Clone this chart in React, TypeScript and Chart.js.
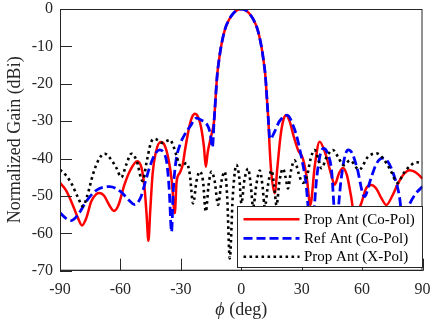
import React, { useEffect, useRef } from 'react';
import { Chart, registerables } from 'chart.js';

Chart.register(...registerables);

const FONT = '"Liberation Serif", "Times New Roman", Times, serif';
const INK = '#262626';

const xTickValues = [-90, -60, -30, 0, 30, 60, 90];
const yTickValues = [0, -10, -20, -30, -40, -50, -60, -70];

const seriesLabels = ['Prop Ant (Co-Pol)', 'Ref Ant (Co-Pol)', 'Prop Ant (X-Pol)'];

// [angle (deg), normalized gain (dBi)]
const propCoPol: [number, number][] = [
  [-90, -46.5], [-87, -48.5], [-84, -52], [-81, -56], [-79.1, -57.9], [-77, -56], [-74.5, -51.5],
  [-72, -49.5], [-70.3, -49.2], [-68, -50], [-65.5, -52.5], [-63.2, -54], [-61, -52.5], [-58, -47],
  [-55, -43], [-51.7, -40.7], [-49.5, -42.5], [-48, -48], [-47, -55], [-46.1, -62], [-45.2, -54],
  [-44, -44], [-42.5, -38.5], [-40, -35.6], [-38, -36.5], [-36, -40.5], [-34.5, -46], [-33, -54.6],
  [-32.1, -46.2], [-30.5, -43.8], [-29, -41.5], [-28, -38], [-26, -32], [-24.5, -29], [-23, -28],
  [-21.5, -28.8], [-20, -31.5], [-18.5, -37], [-17.6, -42.2], [-16.7, -38.5], [-15.6, -35.5],
  [-14.5, -33], [-13.5, -30], [-13, -26], [-12, -18], [-11, -13.5], [-10, -10], [-8, -5.3],
  [-6, -2.8], [-4, -1.2], [-2, -0.3], [0, 0], [2, -0.3], [4, -1.2], [6, -2.8], [8, -5.3], [10, -10],
  [11, -13.5], [12, -18], [13, -26], [13.5, -30], [14, -36], [14.8, -43], [16.6, -49.3], [18, -42],
  [19.5, -34], [21, -29.5], [22.4, -28.4], [24, -30], [26, -34], [28.2, -37.7], [30.6, -40],
  [32.5, -45], [34.3, -52.4], [36.5, -42], [38.9, -35.5], [42, -39], [44.5, -44], [46.4, -47],
  [48.5, -44], [50.5, -42.5], [52.5, -44.5], [54.5, -50], [56.5, -56], [58, -54], [59.6, -52],
  [62, -48], [64.6, -47.1], [67, -48], [69.5, -50.5], [72, -52.4], [75, -50], [78, -46.5], [81, -44],
  [83.5, -43.1], [86, -43.5], [88, -44.3], [90, -45.4],
];

const refCoPol: [number, number][] = [
  [-90, -54.5], [-87, -56], [-84.4, -56.6], [-81, -55], [-77, -51.5], [-72, -48.5], [-65.3, -47.5],
  [-60, -48.8], [-56, -51], [-53, -52.3], [-50, -50.5], [-47.5, -46], [-45.5, -42.3], [-43, -39],
  [-40.5, -37.7], [-38.5, -38.5], [-37, -41], [-35.8, -48], [-34.6, -59.6], [-33.8, -49],
  [-32.5, -41], [-30.5, -36.4], [-28, -33.5], [-25.5, -31.5], [-22.2, -29.2], [-19.5, -29.8],
  [-17.3, -30.6], [-15.5, -33], [-14.3, -37], [-13.5, -30], [-13, -26], [-12, -18], [-11, -13.5],
  [-10, -10], [-8, -5.3], [-6, -2.8], [-4, -1.2], [-2, -0.3], [0, 0], [2, -0.3], [4, -1.2],
  [6, -2.8], [8, -5.3], [10, -10], [11, -13.5], [12, -18], [13, -26], [13.5, -30], [14.2, -34.8],
  [15, -34.5], [16.6, -32.8], [19, -30], [22.8, -28.4], [26, -31.5], [28, -35], [30, -40],
  [32, -46], [34.8, -60], [37.5, -45], [39, -39.5], [40.8, -37.3], [42.8, -38.5], [44.8, -43],
  [47, -58], [49.5, -46], [51.2, -40], [53, -37.7], [55, -38.5], [57.5, -42.5], [61.2, -50.2],
  [64, -46], [67, -41.5], [70.3, -39.9], [73, -41], [75.5, -44], [78.5, -50], [80.5, -58],
  [83, -53], [86.5, -49.5], [90, -47.5],
];

const propXPol: [number, number][] = [
  [-90, -43], [-87, -44.5], [-84, -47], [-81, -50.5], [-78.6, -52.8], [-76.5, -50], [-73.5, -44],
  [-70.5, -40], [-67.8, -38.7], [-65, -40], [-62, -42.5], [-59.6, -45], [-57, -41.5], [-54.6, -38.7],
  [-52, -40.5], [-49, -46], [-47, -41], [-45, -36], [-43.2, -34.7], [-41, -35.2], [-39.3, -35.8],
  [-37, -35.3], [-35.4, -35], [-33.5, -37], [-32, -39.5], [-30.5, -41.8], [-28.9, -41.7],
  [-27.2, -41.2], [-25.6, -44], [-23.9, -52], [-22.2, -46], [-20.6, -43.5], [-19, -46],
  [-17.6, -54.2], [-16.2, -47], [-14.8, -43.5], [-13.2, -46], [-11.5, -52.4], [-9.8, -46],
  [-8.2, -43.5], [-7, -50], [-5.7, -66.7], [-4.2, -50], [-2.4, -41.7], [-1, -45], [0.1, -52],
  [1.5, -46], [3.4, -42.7], [4.7, -47], [5.9, -53], [7.5, -47], [9.2, -43.2], [10.5, -47],
  [11.7, -53], [13.3, -47], [15, -43.2], [16.3, -47], [17.5, -52.5], [19, -46], [20.7, -42.7],
  [22, -45], [23.2, -48], [24.8, -43], [26.5, -40.5], [28.5, -44], [30.5, -46.5], [32.5, -45],
  [34.5, -40], [36.4, -37.7], [38.2, -40], [39.8, -42.6], [42.5, -39.5], [45.5, -37.7], [48, -39.5],
  [50.8, -41.8], [54, -40.5], [58.5, -43], [63, -39.5], [67, -38.6], [70.5, -40], [74, -43],
  [77.7, -46.5], [80.5, -44], [84.4, -41.7], [87, -41], [90, -41.3],
];

const toXY = (arr: [number, number][]) => arr.map(([x, y]) => ({ x, y }));

const framePlugin = {
  id: 'frameAndLegend',
  afterDatasetsDraw(chart: any) {
    const { ctx, chartArea: ca, scales } = chart;
    const xs = scales.x;
    const ys = scales.y;
    ctx.save();
    // box
    ctx.strokeStyle = INK;
    ctx.lineWidth = 1;
    ctx.setLineDash([]);
    ctx.strokeRect(ca.left + 0.5, ca.top + 0.5, ca.right - ca.left - 1, ca.bottom - ca.top - 1);
    // inward ticks
    const tl = 12;
    ctx.beginPath();
    xTickValues.forEach((v) => {
      const px = Math.round(xs.getPixelForValue(v)) + 0.5;
      ctx.moveTo(px, ca.bottom);
      ctx.lineTo(px, ca.bottom - tl);
    });
    yTickValues.forEach((v) => {
      const py = Math.round(ys.getPixelForValue(v)) + 0.5;
      ctx.moveTo(ca.left, py);
      ctx.lineTo(ca.left + tl, py);
    });
    ctx.stroke();

    // legend
    const bx = 237.5, by = 206.5, bw = 185, bh = 61;
    ctx.fillStyle = '#ffffff';
    ctx.fillRect(bx, by, bw, bh);
    ctx.strokeStyle = INK;
    ctx.lineWidth = 1;
    ctx.strokeRect(bx, by, bw, bh);
    const rows = [219.3, 238.3, 256.7];
    chart.data.datasets.forEach((ds: any, i: number) => {
      const y = rows[i];
      ctx.save();
      ctx.strokeStyle = ds.borderColor;
      ctx.lineWidth = ds.borderWidth;
      ctx.setLineDash(ds.borderDash || []);
      ctx.beginPath();
      ctx.moveTo(243.5, y);
      ctx.lineTo(299.5, y);
      ctx.stroke();
      ctx.restore();
      ctx.fillStyle = '#000000';
      ctx.font = `15px ${FONT}`;
      ctx.textAlign = 'left';
      ctx.textBaseline = 'middle';
      ctx.fillText(ds.label, 304, y + 0.5);
    });
    ctx.restore();
  },
  afterDraw(chart: any) {
    const { ctx, chartArea: ca } = chart;
    ctx.save();
    ctx.fillStyle = INK;
    ctx.textBaseline = 'middle';
    ctx.textAlign = 'left';
    const phi = '\u03D5';
    const rest = ' (deg)';
    ctx.font = `italic 18px ${FONT}`;
    const w1 = ctx.measureText(phi).width;
    ctx.font = `18px ${FONT}`;
    const w2 = ctx.measureText(rest).width;
    const cx = (ca.left + ca.right) / 2;
    const x0 = cx - (w1 + w2) / 2;
    const y = 310;
    ctx.font = `italic 18px ${FONT}`;
    ctx.fillText(phi, x0, y);
    ctx.font = `18px ${FONT}`;
    ctx.fillText(rest, x0 + w1, y);
    ctx.restore();
  },
};

export default function App() {
  const canvasRef = useRef<HTMLCanvasElement | null>(null);

  useEffect(() => {
    const canvas = canvasRef.current;
    if (!canvas) return;
    const chart = new Chart(canvas, {
      type: 'line',
      data: {
        datasets: [
          {
            label: seriesLabels[0],
            data: toXY(propCoPol),
            borderColor: '#ff0000',
            borderWidth: 2.5,
            borderDash: [],
            pointRadius: 0,
            cubicInterpolationMode: 'monotone',
            fill: false,
            order: 3,
          },
          {
            label: seriesLabels[1],
            data: toXY(refCoPol),
            borderColor: '#0000ff',
            borderWidth: 2.8,
            borderDash: [9, 4],
            pointRadius: 0,
            cubicInterpolationMode: 'monotone',
            fill: false,
            order: 2,
          },
          {
            label: seriesLabels[2],
            data: toXY(propXPol),
            borderColor: '#000000',
            borderWidth: 2.6,
            borderDash: [2.6, 3.4],
            pointRadius: 0,
            cubicInterpolationMode: 'monotone',
            fill: false,
            order: 1,
          },
        ],
      },
      options: {
        animation: false,
        responsive: false,
        devicePixelRatio: 1,
        layout: { padding: { left: 0, top: 9, right: 8.5, bottom: 0 } },
        plugins: {
          legend: { display: false },
          tooltip: { enabled: false },
        },
        scales: {
          x: {
            type: 'linear',
            min: -90,
            max: 90,
            afterBuildTicks: (s: any) => {
              s.ticks = xTickValues.map((v) => ({ value: v }));
            },
            afterFit: (s: any) => {
              s.height = 52.3;
              s.paddingLeft = 0;
              s.paddingRight = 0;
            },
            grid: { display: false, drawTicks: false },
            border: { display: true, color: INK, width: 1 },
            ticks: {
              padding: 9,
              maxRotation: 0,
              autoSkip: false,
              color: INK,
              font: { family: FONT, size: 16 },
            },
            title: { display: false },
          },
          y: {
            type: 'linear',
            min: -70,
            max: 0,
            afterBuildTicks: (s: any) => {
              s.ticks = yTickValues.map((v) => ({ value: v }));
            },
            afterFit: (s: any) => {
              s.width = 60;
              s.paddingTop = 0;
              s.paddingBottom = 0;
            },
            grid: { display: false, drawTicks: false },
            border: { display: true, color: INK, width: 1 },
            ticks: {
              padding: 7,
              autoSkip: false,
              color: INK,
              font: { family: FONT, size: 16 },
            },
            title: {
              display: true,
              text: 'Normalized Gain (dBi)',
              color: INK,
              font: { family: FONT, size: 18 },
              padding: { top: 4, bottom: 0 },
            },
          },
        },
      },
      plugins: [framePlugin],
    } as any);
    return () => chart.destroy();
  }, []);

  return (
    <div style={{ position: 'fixed', left: 0, top: 0, width: 431, height: 323, background: '#fff' }}>
      <canvas ref={canvasRef} width={431} height={323} style={{ width: 431, height: 323, display: 'block' }} />
    </div>
  );
}
